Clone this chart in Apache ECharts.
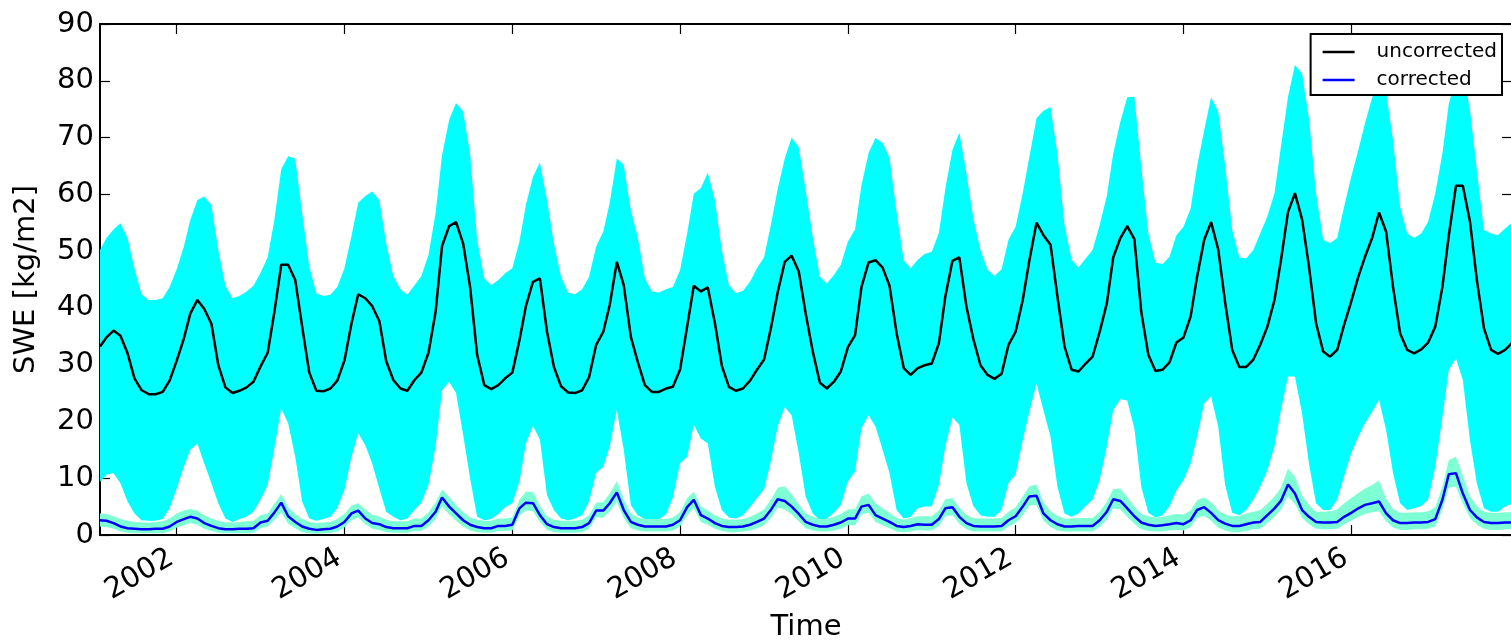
<!DOCTYPE html>
<html>
<head>
<meta charset="utf-8">
<title>SWE time series</title>
<script src="https://cdn.jsdelivr.net/npm/echarts@6/dist/echarts.min.js"></script>
<style>
  html, body { margin: 0; padding: 0; background: #fff; }
  #chart { width: 1511px; height: 641px; }
</style>
</head>
<body>
<div id="chart"></div>
<script>
// Monthly series, first month = February 2001
const startYear = 2001;
const startMonth = 2;

// Tick labels on the time axis
const tickYears = [2002, 2004, 2006, 2008, 2010, 2012, 2014, 2016];

// Uncorrected SWE (kg/m2): mean and spread band
const uncorrected = [
  33.2, 34.8, 36.0, 35.1, 32.0, 27.6, 25.5, 24.8, 24.8, 25.2, 27.2, 30.7,
  34.6, 39.0, 41.4, 39.8, 37.2, 29.9, 26.0, 25.0, 25.4, 26.0, 27.0, 29.7,
  32.1, 39.0, 47.6, 47.6, 44.9, 36.7, 28.6, 25.4, 25.3, 25.8, 27.2, 30.7,
  37.3, 42.4, 41.7, 40.3, 37.7, 30.6, 27.3, 25.8, 25.4, 27.3, 28.6, 32.1,
  39.3, 50.9, 54.4, 55.1, 51.3, 43.7, 31.7, 26.4, 25.7, 26.4, 27.6, 28.6,
  34.3, 40.3, 44.6, 45.2, 35.8, 29.6, 26.2, 25.1, 25.0, 25.5, 27.8, 33.5,
  35.8, 40.5, 48.1, 44.0, 34.9, 30.5, 26.4, 25.2, 25.2, 25.8, 26.1, 29.1,
  36.7, 43.9, 42.9, 43.6, 37.3, 29.8, 26.1, 25.4, 25.8, 27.2, 29.1, 30.9,
  36.7, 42.7, 48.1, 49.2, 46.4, 39.0, 32.3, 26.8, 25.8, 27.0, 28.8, 33.1,
  35.2, 43.7, 48.0, 48.4, 47.1, 43.9, 35.5, 29.4, 28.2, 29.4, 29.9, 30.2,
  33.8, 42.0, 48.3, 48.9, 40.2, 34.5, 29.9, 28.2, 27.5, 28.4, 33.5, 35.8,
  41.4, 48.4, 55.0, 52.8, 51.1, 42.0, 33.2, 29.1, 28.8, 30.2, 31.4, 35.8,
  40.8, 48.9, 52.3, 54.4, 52.1, 39.3, 31.7, 28.9, 29.1, 30.4, 33.9, 34.8,
  38.5, 45.5, 52.0, 55.1, 50.3, 41.0, 32.6, 29.6, 29.6, 30.9, 33.5, 36.7,
  41.4, 48.4, 56.9, 60.2, 55.6, 47.3, 37.3, 32.3, 31.4, 32.6, 37.0, 41.1,
  45.5, 49.0, 52.3, 56.8, 53.4, 43.7, 35.5, 32.6, 32.0, 32.7, 33.9, 36.7,
  43.7, 52.8, 61.5, 61.5, 55.2, 44.9, 36.4, 32.6, 31.9, 32.6, 33.8
];
const uncorrectedHigh = [
  50.2, 52.3, 53.8, 54.9, 52.3, 47.0, 42.4, 41.4, 41.4, 41.7, 43.7, 46.8,
  50.8, 55.5, 59.0, 59.6, 58.1, 50.2, 43.9, 41.7, 42.1, 42.9, 43.9, 46.2,
  48.9, 55.2, 64.4, 66.7, 66.3, 56.7, 47.3, 42.6, 42.1, 42.3, 43.7, 47.0,
  52.7, 58.5, 59.7, 60.5, 59.0, 51.4, 45.6, 43.3, 42.3, 44.0, 45.6, 49.3,
  56.7, 66.9, 73.1, 76.1, 74.6, 67.2, 52.0, 45.2, 44.0, 44.9, 46.1, 47.0,
  51.7, 58.1, 63.1, 65.6, 59.0, 51.4, 45.5, 42.7, 42.4, 43.3, 45.5, 50.8,
  53.4, 58.5, 66.3, 65.2, 57.2, 52.5, 45.2, 42.9, 42.7, 43.3, 43.7, 46.6,
  53.1, 60.1, 61.1, 63.8, 59.0, 50.2, 44.0, 42.6, 43.0, 44.6, 47.0, 48.9,
  54.9, 60.9, 66.3, 70.0, 68.3, 60.8, 52.5, 45.5, 44.3, 45.8, 47.6, 51.7,
  53.8, 61.6, 67.3, 69.9, 69.1, 66.5, 56.9, 48.4, 47.0, 48.5, 49.5, 49.9,
  53.2, 61.0, 67.8, 70.9, 63.7, 55.8, 50.2, 46.7, 45.6, 46.8, 52.0, 54.3,
  60.2, 66.6, 73.4, 74.7, 75.4, 67.2, 54.6, 48.5, 47.1, 48.7, 50.2, 54.6,
  59.7, 67.2, 72.8, 77.1, 77.2, 64.9, 53.1, 48.0, 47.7, 49.0, 52.8, 54.3,
  57.5, 64.9, 71.3, 77.1, 74.6, 65.2, 53.7, 48.9, 48.7, 50.2, 53.1, 56.1,
  60.2, 68.4, 77.2, 82.8, 81.3, 73.4, 60.2, 52.0, 51.4, 52.3, 57.8, 63.1,
  67.8, 72.5, 77.0, 80.0, 78.0, 69.6, 57.8, 53.1, 52.3, 53.1, 55.2, 60.2,
  67.2, 76.0, 80.5, 82.0, 74.9, 64.3, 53.7, 53.1, 52.8, 54.0, 55.0
];
const uncorrectedLow = [
   9.4, 10.6, 10.9,  9.1,  5.9,  3.8,  2.6,  2.5,  2.5,  2.8,  4.7,  8.2,
  12.0, 15.0, 16.1, 12.6,  9.1,  5.6,  2.9,  2.3,  2.8,  3.2,  4.1,  6.2,
   8.8, 15.0, 22.3, 19.7, 13.8,  5.9,  2.9,  2.5,  2.8,  3.2,  4.7,  7.9,
  13.8, 17.9, 15.8, 12.6,  8.2,  4.1,  3.2,  2.6,  2.9,  4.4,  5.7,  8.8,
  15.6, 25.5, 27.0, 25.0, 17.6, 10.0,  3.2,  2.6,  2.8,  3.7,  4.9,  5.6,
   9.4, 16.1, 19.2, 16.8,  7.0,  4.4,  2.9,  2.6,  2.9,  3.5,  5.9, 10.9,
  12.0, 15.6, 22.0, 15.0,  5.3,  3.5,  2.8,  2.6,  2.8,  3.6,  6.6, 12.6,
  13.8, 19.4, 17.0, 16.1,  8.5,  4.4,  3.1,  2.9,  3.5,  4.9,  6.5,  8.0,
  13.2, 19.1, 22.5, 21.1, 14.4,  6.8,  3.8,  2.6,  2.9,  3.9,  5.3,  9.4,
  11.2, 18.8, 21.1, 19.1, 15.0, 10.9,  4.4,  2.9,  3.2,  4.7,  5.0,  5.0,
   8.8, 15.6, 20.7, 19.4,  9.1,  5.1,  3.5,  3.2,  3.2,  4.4,  9.1, 10.6,
  16.7, 21.7, 26.7, 22.0, 17.3,  8.5,  3.8,  3.2,  3.8,  5.1,  6.2,  9.7,
  15.6, 22.0, 23.9, 23.7, 18.8,  8.5,  3.9,  3.1,  3.5,  5.0,  7.8,  9.7,
  12.6, 17.3, 23.2, 24.4, 19.1,  8.8,  3.9,  3.5,  4.4,  6.2,  8.5, 11.4,
  15.6, 22.0, 27.9, 27.9, 21.4, 12.6,  5.6,  4.4,  4.4,  6.2, 10.3, 14.4,
  17.3, 19.7, 21.7, 23.8, 18.5, 10.9,  5.6,  4.4,  4.7,  5.1,  6.2, 12.0,
  20.8, 29.1, 31.1, 27.3, 16.7,  9.1,  4.7,  4.1,  4.1,  5.0,  5.5
];

// Corrected SWE (kg/m2): mean and spread band
const corrected = [
  2.6, 2.5, 2.1, 1.5, 1.2, 1.1, 1.0, 1.0, 1.1, 1.1, 1.5, 2.3,
  2.8, 3.2, 2.9, 2.1, 1.6, 1.2, 1.0, 1.0, 1.1, 1.1, 1.2, 2.2,
  2.5, 3.9, 5.7, 3.3, 2.3, 1.5, 1.1, 0.9, 1.0, 1.1, 1.5, 2.3,
  3.8, 4.3, 2.9, 2.1, 1.9, 1.4, 1.2, 1.2, 1.2, 1.6, 1.6, 2.6,
  4.1, 6.6, 5.0, 3.8, 2.6, 1.8, 1.4, 1.2, 1.2, 1.6, 1.6, 1.8,
  4.7, 5.7, 5.6, 3.5, 1.9, 1.4, 1.2, 1.2, 1.2, 1.4, 2.1, 4.3,
  4.3, 5.6, 7.5, 4.4, 2.3, 1.8, 1.5, 1.5, 1.5, 1.5, 1.8, 2.6,
  4.9, 6.2, 3.5, 2.9, 2.1, 1.6, 1.4, 1.4, 1.5, 1.8, 2.3, 2.9,
  4.5, 6.3, 6.0, 5.0, 3.7, 2.3, 1.8, 1.5, 1.5, 1.8, 2.2, 2.9,
  2.9, 5.0, 5.3, 3.5, 2.9, 2.3, 1.6, 1.4, 1.6, 1.9, 1.8, 1.8,
  2.8, 4.7, 4.9, 3.2, 2.1, 1.6, 1.5, 1.5, 1.5, 1.6, 2.6, 3.3,
  5.0, 6.8, 6.9, 3.8, 2.6, 1.9, 1.5, 1.5, 1.6, 1.6, 1.6, 2.6,
  4.1, 6.3, 6.0, 4.7, 3.3, 2.2, 1.8, 1.6, 1.7, 1.9, 2.1, 1.9,
  2.6, 4.4, 4.9, 3.9, 2.6, 2.0, 1.6, 1.6, 1.9, 2.2, 2.3, 3.5,
  4.7, 6.0, 8.9, 7.3, 4.4, 3.2, 2.3, 2.2, 2.2, 2.3, 3.2, 3.9,
  4.7, 5.3, 5.6, 5.9, 3.8, 2.6, 2.1, 2.1, 2.2, 2.2, 2.3, 2.8,
  6.2, 10.7, 10.9, 7.3, 4.4, 3.1, 2.3, 2.1, 2.1, 2.2, 2.2
];
const correctedHigh = [
  3.8, 3.7, 3.3, 2.8, 2.5, 2.3, 2.2, 2.2, 2.3, 2.4, 2.9, 3.8,
  4.3, 4.6, 4.3, 3.5, 2.9, 2.5, 2.2, 2.2, 2.3, 2.4, 2.5, 3.5,
  3.8, 5.4, 7.2, 4.9, 3.7, 2.8, 2.3, 2.1, 2.2, 2.3, 2.8, 3.7,
  5.2, 5.6, 4.5, 3.6, 3.2, 2.7, 2.4, 2.4, 2.4, 2.9, 2.9, 4.0,
  5.7, 8.0, 6.7, 5.3, 4.0, 3.1, 2.7, 2.5, 2.5, 2.9, 2.9, 3.1,
  6.2, 7.6, 7.6, 5.1, 3.3, 2.7, 2.5, 2.5, 2.5, 2.7, 3.5, 5.7,
  5.8, 7.3, 9.5, 6.3, 3.8, 3.1, 2.8, 2.8, 2.8, 2.8, 3.1, 4.0,
  6.5, 7.6, 5.0, 4.3, 3.5, 2.9, 2.7, 2.7, 2.8, 3.2, 3.8, 4.5,
  6.3, 8.3, 8.6, 7.2, 5.4, 3.8, 3.2, 2.8, 2.8, 3.2, 3.7, 4.5,
  4.6, 6.8, 7.3, 5.6, 4.7, 3.9, 3.0, 2.7, 3.0, 3.3, 3.3, 3.3,
  4.3, 6.3, 6.5, 4.8, 3.5, 3.0, 2.9, 2.9, 2.9, 3.0, 4.1, 4.9,
  6.8, 8.6, 8.9, 5.8, 4.2, 3.4, 2.9, 2.9, 3.0, 3.0, 3.0, 4.1,
  5.8, 8.1, 8.2, 6.7, 5.0, 3.7, 3.3, 3.1, 3.2, 3.5, 3.7, 3.6,
  4.3, 6.1, 6.6, 5.8, 4.3, 3.6, 3.3, 3.4, 3.8, 4.1, 4.4, 5.5,
  6.8, 8.3, 11.7, 10.3, 7.0, 5.3, 4.1, 4.1, 4.2, 4.5, 5.6, 6.5,
  7.4, 8.2, 8.8, 9.6, 6.4, 4.6, 3.9, 3.9, 4.0, 4.0, 4.2, 4.9,
  8.5, 13.2, 13.8, 10.5, 6.8, 5.1, 4.1, 3.9, 3.9, 4.0, 4.0
];
const correctedLow = [
  1.5, 1.4, 1.1, 0.6, 0.4, 0.3, 0.3, 0.3, 0.3, 0.3, 0.6, 1.3,
  1.7, 2.1, 1.8, 1.1, 0.7, 0.4, 0.3, 0.3, 0.3, 0.3, 0.4, 1.2,
  1.5, 2.6, 4.0, 2.0, 1.2, 0.5, 0.3, 0.2, 0.3, 0.3, 0.6, 1.3,
  2.6, 3.1, 1.9, 1.1, 0.9, 0.5, 0.4, 0.4, 0.4, 0.7, 0.7, 1.5,
  2.8, 5.0, 3.6, 2.5, 1.5, 0.8, 0.5, 0.4, 0.4, 0.7, 0.7, 0.8,
  3.4, 4.3, 4.2, 2.3, 0.9, 0.5, 0.4, 0.4, 0.4, 0.5, 1.1, 3.1,
  3.1, 4.2, 5.8, 3.0, 1.2, 0.8, 0.6, 0.6, 0.6, 0.6, 0.8, 1.5,
  3.5, 4.7, 2.3, 1.8, 1.1, 0.7, 0.5, 0.5, 0.6, 0.8, 1.2, 1.7,
  3.1, 4.8, 4.5, 3.6, 2.4, 1.2, 0.8, 0.6, 0.6, 0.8, 1.1, 1.7,
  1.7, 3.6, 3.9, 2.3, 1.7, 1.2, 0.6, 0.5, 0.6, 0.9, 0.8, 0.8,
  1.6, 3.3, 3.5, 2.0, 1.0, 0.6, 0.6, 0.6, 0.6, 0.6, 1.5, 2.1,
  3.5, 5.2, 5.3, 2.5, 1.4, 0.8, 0.6, 0.6, 0.6, 0.6, 0.6, 1.4,
  2.7, 4.7, 4.5, 3.2, 2.0, 1.0, 0.7, 0.6, 0.6, 0.8, 0.9, 0.8,
  1.4, 3.0, 3.4, 2.5, 1.3, 0.8, 0.5, 0.5, 0.7, 1.0, 1.1, 2.1,
  3.2, 4.5, 6.8, 5.5, 3.0, 1.9, 1.1, 1.0, 1.0, 1.1, 1.9, 2.5,
  3.2, 3.7, 4.0, 4.2, 2.4, 1.3, 0.9, 0.9, 1.0, 1.0, 1.1, 1.5,
  4.5, 8.3, 8.5, 5.5, 3.0, 1.8, 1.1, 0.9, 0.9, 1.0, 1.0
];

// Timestamps (UTC, first of each month) used as x values
function monthStamp(k) {
  return Date.UTC(startYear, startMonth - 1 + k, 1);
}
function pairs(values) {
  return values.map((v, k) => [monthStamp(k), v]);
}

// Filled range between a low and a high series, drawn as one polygon
// whose vertices are projected through the grid's axes.
function bandSeries(name, low, high, color, z) {
  const data = low.map((l, k) => [monthStamp(k), l, high[k]]);
  return {
    name: name,
    type: 'custom',
    silent: true,
    z: z,
    data: data,
    encode: { x: 0, y: [1, 2] },
    renderItem: function (params, api) {
      if (params.dataIndex !== 0) return null;
      const upper = [];
      const lower = [];
      for (let k = 0; k < data.length; k++) {
        upper.push(api.coord([data[k][0], data[k][2]]));
        lower.push(api.coord([data[k][0], data[k][1]]));
      }
      return {
        type: 'polygon',
        shape: { points: upper.concat(lower.reverse()) },
        style: { fill: color, stroke: null }
      };
    }
  };
}

const FONT = 'DejaVu Sans';
const xMin = monthStamp(0);
const xMax = monthStamp(uncorrected.length - 1);
const tickStamps = tickYears.map(y => Date.UTC(y, 0, 1));

const chart = echarts.init(document.getElementById('chart'), null, { renderer: 'canvas' });

const baseX = {
  type: 'value',
  min: xMin,
  max: xMax,
  splitLine: { show: false },
  axisLine: { show: true, onZero: false, lineStyle: { color: '#000', width: 2 } },
  axisTick: { show: true, inside: true, length: 10, customValues: tickStamps,
              lineStyle: { color: '#000', width: 1.2 } }
};
const baseY = {
  type: 'value',
  min: 0,
  max: 90,
  interval: 10,
  splitLine: { show: false },
  axisLine: { show: true, onZero: false, lineStyle: { color: '#000', width: 2 } },
  axisTick: { show: true, inside: true, length: 10, lineStyle: { color: '#000', width: 1.2 } }
};

chart.setOption({
  animation: false,
  backgroundColor: '#fff',
  textStyle: { fontFamily: FONT },
  grid: {
    left: 100, top: 24, width: 1412, height: 511,
    containLabel: false, outerBoundsMode: 'none'
  },
  legend: {
    data: ['uncorrected', 'corrected'],
    orient: 'vertical',
    right: 9,
    top: 34,
    icon: 'rect',
    itemWidth: 32,
    itemHeight: 2.5,
    itemGap: 8,
    padding: [8, 5, 5, 12],
    backgroundColor: '#fff',
    borderColor: '#000',
    borderWidth: 2,
    borderRadius: 0,
    z: 10,
    textStyle: { fontFamily: FONT, fontSize: 20, color: '#000', padding: [0, 0, 0, 17] }
  },
  xAxis: [
    Object.assign({}, baseX, {
      position: 'bottom',
      name: 'Time',
      nameLocation: 'middle',
      nameGap: 78,
      nameTextStyle: { fontFamily: FONT, fontSize: 29, color: '#000', verticalAlign: 'top' },
      axisLabel: {
        show: true, customValues: tickStamps, rotate: 30, margin: 18,
        padding: [0, 6, 0, 0],
        fontFamily: FONT, fontSize: 29, color: '#000',
        formatter: v => String(new Date(v).getUTCFullYear())
      }
    }),
    Object.assign({}, baseX, { position: 'top', axisLabel: { show: false } })
  ],
  yAxis: [
    Object.assign({}, baseY, {
      position: 'left',
      name: 'SWE [kg/m2]',
      nameLocation: 'middle',
      nameGap: 59,
      nameTextStyle: { fontFamily: FONT, fontSize: 29, color: '#000' },
      axisLabel: { show: true, margin: 6, fontFamily: FONT, fontSize: 29, color: '#000' }
    }),
    Object.assign({}, baseY, { position: 'right', axisLabel: { show: false } })
  ],
  series: [
    bandSeries('uncorrected range', uncorrectedLow, uncorrectedHigh, '#00ffff', 1),
    bandSeries('corrected range', correctedLow, correctedHigh, '#7fffd4', 2),
    {
      name: 'uncorrected', type: 'line', data: pairs(uncorrected), symbol: 'none',
      color: '#000', lineStyle: { color: '#000', width: 2.5 }, z: 3
    },
    {
      name: 'corrected', type: 'line', data: pairs(corrected), symbol: 'none',
      color: '#0000ff', lineStyle: { color: '#0000ff', width: 2.5 }, z: 4
    }
  ]
});
</script>
</body>
</html>
